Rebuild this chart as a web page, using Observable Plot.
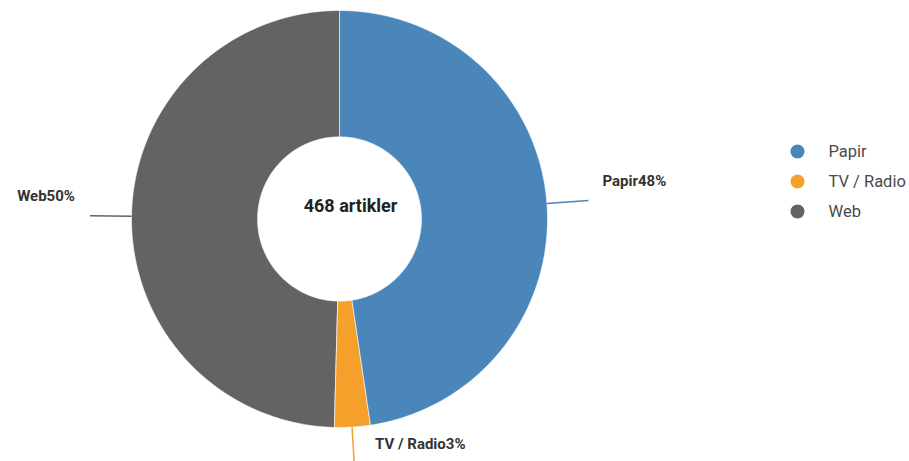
<!DOCTYPE html>
<html>
<head>
<meta charset="utf-8">
<script src="https://cdn.jsdelivr.net/npm/d3@7"></script>
<script src="https://cdn.jsdelivr.net/npm/@observablehq/plot@0.6"></script>
<style>
  html, body { margin: 0; padding: 0; background: #fff; }
  #wrap { position: relative; width: 909px; height: 461px; overflow: hidden; font-family: Roboto, "Noto Sans", sans-serif; }
  #legend { position: absolute; left: 780px; top: 136px; }
  #chart { position: absolute; left: 0; top: 0; }
</style>
</head>
<body>
<div id="wrap"><div id="chart"></div><div id="legend"></div></div>
<script>
const categories = ["Papir", "TV / Radio", "Web"];
const counts = [223, 13, 232];
const percentLabels = ["48%", "3%", "50%"];
const colors = ["#4a86ba", "#f6a02c", "#636363"];
const centerLabel = "468 artikler";

const total = d3.sum(counts);
const innerRatio = 0.394;

// slice geometry in unit coordinates (angle clockwise from top)
let acc = 0;
const slices = categories.map((c, i) => {
  const a0 = acc / total * 2 * Math.PI;
  acc += counts[i];
  const a1 = acc / total * 2 * Math.PI;
  return {cat: c, a0, a1, mid: (a0 + a1) / 2, label: c + percentLabels[i]};
});

const poly = [];
for (const s of slices) {
  const n = Math.max(2, Math.ceil((s.a1 - s.a0) * 180 / Math.PI));
  for (let k = 0; k <= n; k++) {
    const a = s.a0 + (s.a1 - s.a0) * k / n;
    poly.push({cat: s.cat, x: Math.sin(a), y: Math.cos(a)});
  }
  for (let k = n; k >= 0; k--) {
    const a = s.a0 + (s.a1 - s.a0) * k / n;
    poly.push({cat: s.cat, x: innerRatio * Math.sin(a), y: innerRatio * Math.cos(a)});
  }
}

const leaders = slices.map(s => {
  const side = Math.sin(s.mid) > 0.3 ? "right" : Math.sin(s.mid) < -0.3 ? "left" : "bottom";
  const r2 = side === "bottom" ? 1.17 : 1.2;
  return {
    cat: s.cat, side, label: s.label,
    x1: Math.sin(s.mid), y1: Math.cos(s.mid),
    x2: r2 * Math.sin(s.mid), y2: r2 * Math.cos(s.mid)
  };
});

const color = {domain: categories, range: colors};
const labelFont = {fontSize: 15, fontWeight: "bold", fill: "#333"};

const chart = Plot.plot({
  width: 909,
  height: 461,
  margin: 0,
  style: {fontFamily: "Roboto, 'Noto Sans', sans-serif", background: "transparent"},
  x: {domain: [-1, 1], range: [131, 547], axis: null},
  y: {domain: [-1, 1], range: [427, 10], axis: null},
  color,
  marks: [
    Plot.line(poly, {x: "x", y: "y", z: "cat", fill: "cat", stroke: "white", strokeWidth: 0.6, curve: "linear-closed"}),
    Plot.link(leaders, {x1: "x1", y1: "y1", x2: "x2", y2: "y2", stroke: "cat", strokeWidth: 1.5}),
    Plot.text(leaders.filter(d => d.side === "right"), {x: "x2", y: "y2", text: "label", textAnchor: "start", dx: 14, dy: -19, ...labelFont}),
    Plot.text(leaders.filter(d => d.side === "left"), {x: "x2", y: "y2", text: "label", textAnchor: "end", dx: -15, dy: -19, ...labelFont}),
    Plot.text(leaders.filter(d => d.side === "bottom"), {x: "x1", y: "y1", text: "label", textAnchor: "start", dx: 23, dy: 17, ...labelFont}),
    Plot.text([centerLabel], {x: 0, y: 0, text: d => d, dx: 11, dy: -13, fontSize: 18, fontWeight: "bold", fill: "#222"})
  ]
});
document.getElementById("chart").appendChild(chart);

const legend = Plot.plot({
  width: 129,
  height: 90,
  margin: 0,
  style: {fontFamily: "Roboto, 'Noto Sans', sans-serif", background: "transparent"},
  x: {domain: [0, 1], range: [17, 48], axis: null},
  y: {type: "point", domain: categories, range: [15, 75], padding: 0, axis: null},
  color,
  marks: [
    Plot.dot(categories, {x: () => 0, y: d => d, fill: d => d, r: 7}),
    Plot.text(categories, {x: () => 1, y: d => d, text: d => d, textAnchor: "start", fontSize: 16.5, fill: "#4a4a4a"})
  ]
});
document.getElementById("legend").appendChild(legend);
</script>
</body>
</html>
